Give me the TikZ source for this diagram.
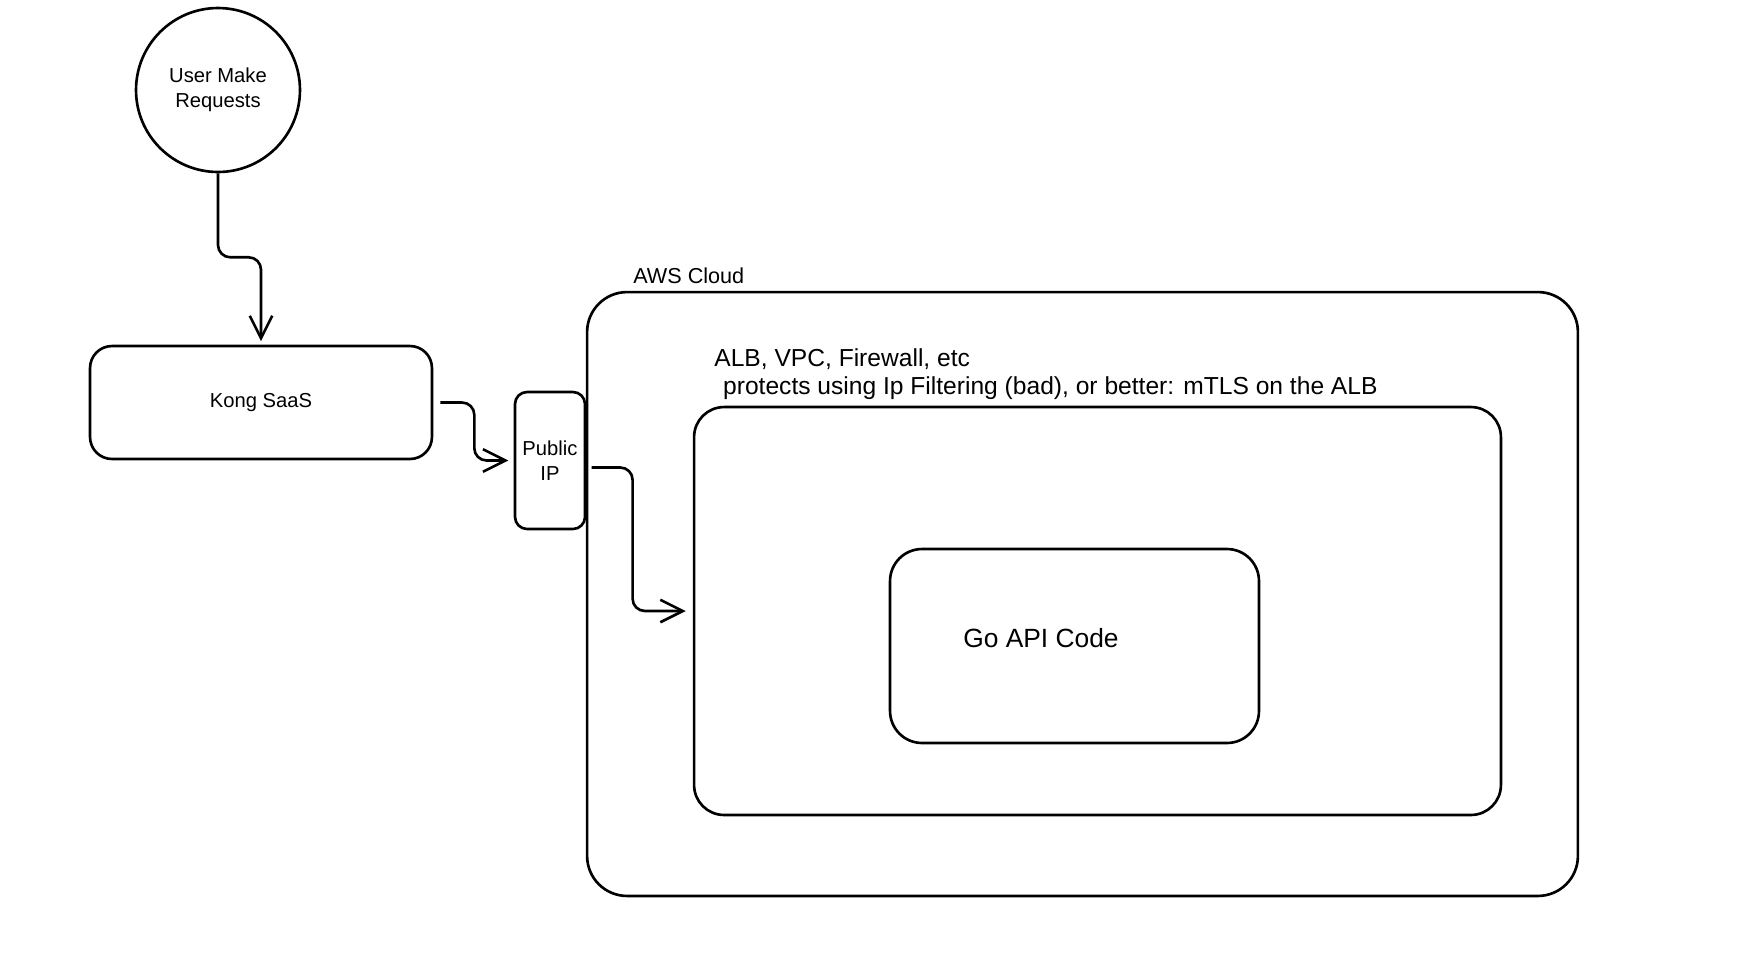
\documentclass[tikz,border=0pt]{standalone}
\usepackage{fontspec}
\setmainfont{Liberation Sans}
\usetikzlibrary{arrows.meta,calc}
\begin{document}
\begin{tikzpicture}[x=0.02cm,y=-0.02cm,
    box/.style={draw,line width=1.5pt,rounded corners=#1,inner sep=0pt},
    lbl/.style={font=\fontsize{11.5}{14}\selectfont,align=center},
    arr/.style={line width=1.5pt,rounded corners=7pt,-{Straight Barb[length=4.5mm,width=4.5mm]}}]
  \useasboundingbox (0,0) rectangle (1757,975);
  \node[draw,line width=1.5pt,circle,minimum size=3.28cm,lbl](user)at(218,90){User Make\\Requests};
  \node[box=0.44cm,minimum width=6.84cm,minimum height=2.26cm,lbl](kong)at(261,402.5){Kong SaaS};
  \node[box=0.24cm,minimum width=1.4cm,minimum height=2.74cm,lbl](pip)at(550,460.5){Public\\IP};
  \node[box=0.8cm,minimum width=19.82cm,minimum height=12.08cm](aws)at(1082.5,594){};
  \node[box=0.6cm,minimum width=16.14cm,minimum height=8.16cm](alb)at(1097.5,611){};
  \node[box=0.64cm,minimum width=7.38cm,minimum height=3.88cm](go)at(1074.5,646){};
  \node[font=\fontsize{15}{18}\selectfont](golbl)at(1041,638){Go API Code};
  \node[anchor=west,font=\fontsize{12.3}{15}\selectfont,inner sep=0pt](awslbl)at(633,276){AWS Cloud};
  \node[anchor=west,align=left,font=\fontsize{14}{16}\selectfont,inner sep=0pt](alblbl)at(714,374){ALB, VPC, Firewall, etc\\
    \hspace{5pt}protects using Ip Filtering (bad), or better: mTLS on the ALB};
  % connectors
  \draw[arr,shorten >=2pt](user.south)--++(0,84)-|(kong.north);
  \draw[arr,shorten >=3pt]([xshift=4pt]kong.east)--++(34,0)|-(pip.west);
  \draw[arr,shorten >=4pt]([shift={(3pt,7)}]pip.east)--++(41,0)|-(alb.west);
\end{tikzpicture}
\end{document}
